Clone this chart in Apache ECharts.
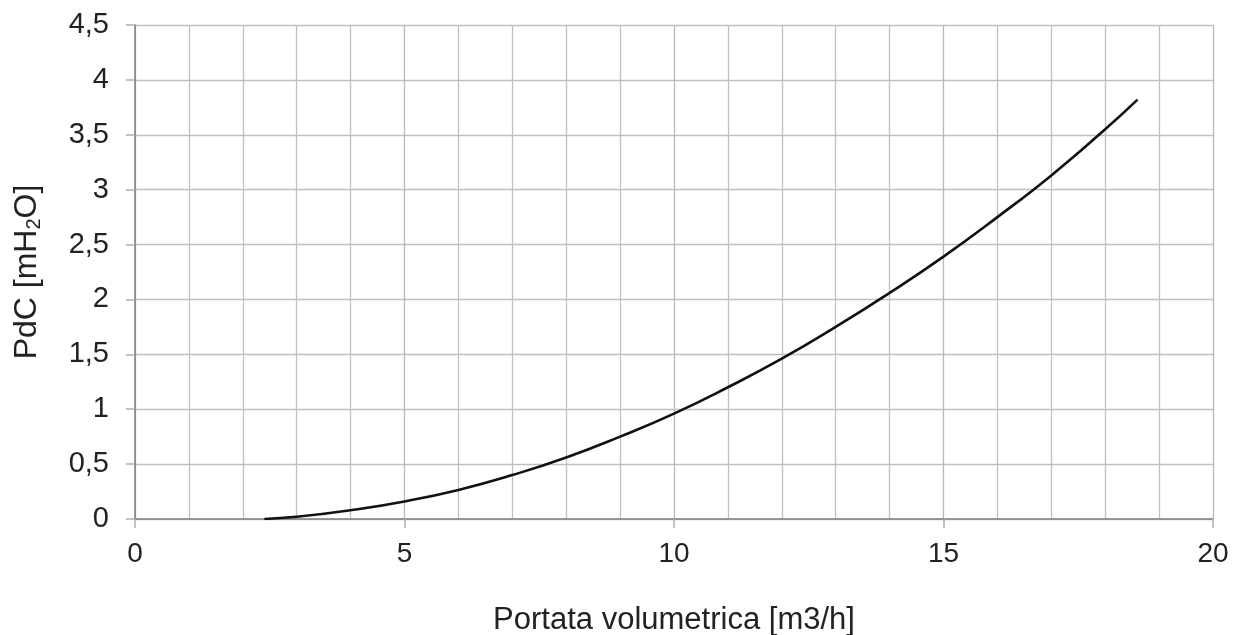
<!DOCTYPE html>
<html>
<head>
<meta charset="utf-8">
<script src="https://cdn.jsdelivr.net/npm/echarts@6/dist/echarts.min.js"></script>
<style>html,body{margin:0;padding:0;background:#fff}#c{width:1239px;height:635px}</style>
</head>
<body>
<div id="c"></div>
<script>
const flowRate = [2.4, 3, 4, 5, 6, 7, 8, 9, 10, 11, 12, 13, 14, 15, 16, 17, 18, 18.6];
const pressureDrop = [0, 0.02, 0.08, 0.16, 0.265, 0.40, 0.56, 0.75, 0.96, 1.20, 1.46, 1.75, 2.06, 2.39, 2.75, 3.13, 3.55, 3.82];
const xTitle = 'Portata volumetrica [m3/h]';
const yTitleParts = ['PdC [mH', '2', 'O]'];

const chart = echarts.init(document.getElementById('c'), null, {renderer: 'canvas'});
const font = 'Liberation Sans, Arial, sans-serif';
chart.setOption({
  animation: false,
  backgroundColor: '#ffffff',
  grid: {left: 135, right: 26, top: 25, bottom: 116, containLabel: false, outerBoundsMode: 'none'},
  xAxis: {
    type: 'value', min: 0, max: 20, interval: 5,
    name: xTitle, nameLocation: 'middle', nameGap: 86,
    nameTextStyle: {fontFamily: font, fontSize: 31, color: '#222'},
    axisLine: {show: true, lineStyle: {color: '#808080', width: 1.5}},
    axisTick: {show: true, inside: false, length: 9, lineStyle: {color: '#b0b0b0', width: 1.5}},
    axisLabel: {fontFamily: font, fontSize: 28, color: '#222', margin: 21},
    splitLine: {show: true, lineStyle: {color: '#b8b8b8', width: 1.3}},
    minorTick: {show: false, splitNumber: 5},
    minorSplitLine: {show: true, lineStyle: {color: '#c0c0c0', width: 1.3}}
  },
  yAxis: {
    type: 'value', min: 0, max: 4.5, interval: 0.5,
    name: '{a|' + yTitleParts[0] + '}{s|' + yTitleParts[1] + '}{a|' + yTitleParts[2] + '}',
    nameLocation: 'middle', nameGap: 90, nameRotate: 90,
    nameTextStyle: {
      fontFamily: font, fontSize: 32, color: '#222',
      rich: {
        a: {fontFamily: font, fontSize: 32, color: '#222', lineHeight: 36},
        s: {fontFamily: font, fontSize: 20, color: '#222', lineHeight: 36, padding: [15, 0, 0, 0]}
      }
    },
    axisLine: {show: true, lineStyle: {color: '#808080', width: 1.5}},
    axisTick: {show: true, inside: false, length: 9, lineStyle: {color: '#b0b0b0', width: 1.5}},
    axisLabel: {fontFamily: font, fontSize: 29, color: '#222', margin: 26,
      formatter: v => String(v).replace('.', ',')},
    splitLine: {show: true, lineStyle: {color: '#c0c0c0', width: 1.3}}
  },
  series: [{
    type: 'line',
    data: flowRate.map((x, i) => [x, pressureDrop[i]]),
    smooth: 0.5,
    showSymbol: false,
    lineStyle: {color: '#111', width: 2.6},
    z: 5
  }]
});
</script>
</body>
</html>
